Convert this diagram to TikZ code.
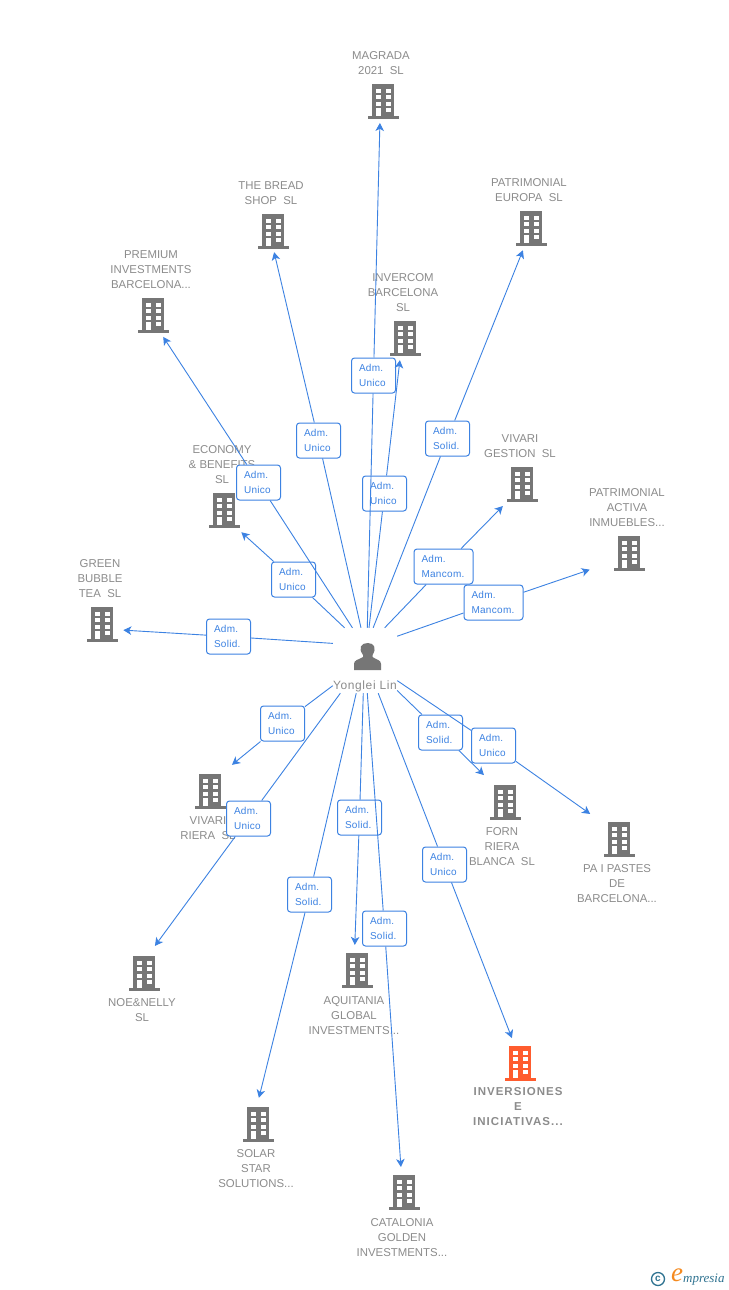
\documentclass[tikz,border=0pt]{standalone}
\usepackage{fontspec}
\setmainfont{Liberation Sans}
\newfontfamily\wideface[LetterSpace=9]{Liberation Sans}
\newfontfamily\nameface[LetterSpace=5]{Liberation Sans}
\newfontfamily\badgeface[LetterSpace=3]{Liberation Sans}
\newfontfamily\logoface{Liberation Serif}
\usetikzlibrary{arrows.meta}
\definecolor{linkblue}{HTML}{3C82E2}
\definecolor{iconGray}{HTML}{767676}
\definecolor{textGray}{HTML}{8C8C8C}
\definecolor{hotOrange}{HTML}{FF5C2E}
\definecolor{logoTeal}{HTML}{2F7391}
\definecolor{logoOrange}{HTML}{F58A1F}
\tikzset{
   company/.style={circle, minimum size=50pt, inner sep=0pt},
   companytext/.style={align=center, text=textGray, inner sep=0pt, yshift=-1pt, font=\fontsize{11.4}{15}\selectfont},
   hottext/.style={align=center, text=textGray, inner sep=0pt, yshift=-1pt, font=\fontsize{11.5}{15}\selectfont\bfseries\wideface},
   badge/.style={draw=linkblue, fill=white, rounded corners=3pt, line width=1pt, text=linkblue, align=left,
                 text width=29pt, minimum width=44pt, minimum height=35pt, inner xsep=7.5pt, inner ysep=0pt,
                 xshift=0.5pt, yshift=-0.5pt, font=\fontsize{10}{15}\selectfont\badgeface},
   widebadge/.style={badge, text width=44pt, minimum width=59pt},
   link/.style={draw=linkblue, line width=0.9pt},
   tiplink/.style={link, -{Stealth[length=8pt,width=8.5pt,inset=2.2pt]}},
   pics/building/.style={code={
      \fill[#1] (-11,-17) rectangle (11,15);
      \fill[#1] (-15.5,14.5) rectangle (15.5,17.5);
      \foreach \wx in {-7.5,2.5} \foreach \wy in {-12.5,-6,0.5}
         \fill[white] (\wx,\wy) rectangle ++(5,4);
      \fill[white] (-7.5,7) rectangle (-2.5,15);
      \fill[white] (2.5,7) rectangle (7.5,11);
   }}
}
\newcommand{\company}[4][]{
   \node[company,#1] (#2) at (#3) {};
   \pic at (#2) {building=#4};
}
\begin{document}
\begin{tikzpicture}[x=1pt,y=-1pt]
\useasboundingbox (0,0) rectangle (728,1290);
\fill[white] (0,0) rectangle (728,1290);
% person
\node[rectangle, minimum width=64pt, minimum height=65pt, inner sep=0pt] (person) at (365,660.5) {};
\fill[iconGray] (354,670) -- (354,664) .. controls (354,660) and (358,660) .. (363,657) -- (363,655)
   .. controls (358,648) and (361,643) .. (367.7,643) .. controls (374,643) and (377,648) .. (372.5,655) -- (372.5,657)
   .. controls (377,660) and (381,660) .. (381,664) -- (381,670) -- cycle;
\node[companytext, font=\fontsize{12}{15}\selectfont\nameface] (personname) at (365,685) {Yonglei Lin};
% companies
\company[minimum size=44pt]{magrada}{383,101}{iconGray}
\company[minimum size=42pt]{bread}{273,231}{iconGray}
\company[minimum size=47pt]{europa}{531,228}{iconGray}
\company[minimum size=48pt]{premium}{153,315}{iconGray}
\company[minimum size=45pt]{invercom}{405,338}{iconGray}
\company[minimum size=56pt]{economy}{224,510}{iconGray}
\company[minimum size=58pt]{gestion}{522,484}{iconGray}
\company[minimum size=85pt]{activa}{629,553}{iconGray}
\company[minimum size=44pt]{green}{102,624}{iconGray}
\company[minimum size=68pt]{riera}{210,791}{iconGray}
\company[minimum size=68pt]{forn}{505,802}{iconGray}
\company[minimum size=76pt]{pastes}{619,839}{iconGray}
\company[minimum size=58pt]{noe}{144,973}{iconGray}
\company{aquitania}{357,970}{iconGray}
\company[minimum size=52pt]{inversiones}{520,1063}{hotOrange}
\company[minimum size=52pt]{solar}{258,1124}{iconGray}
\company{catalonia}{404,1192}{iconGray}
% names
\node[companytext] (magradaname) at (381,62.5) {MAGRADA\\2021\ \ SL};
\node[companytext] (breadname) at (271,192) {THE BREAD\\SHOP\ \ SL};
\node[companytext] (europaname) at (529,189) {PATRIMONIAL\\EUROPA\ \ SL};
\node[companytext] (premiumname) at (151,269) {PREMIUM\\INVESTMENTS\\BARCELONA...};
\node[companytext] (invercomname) at (403,292) {INVERCOM\\BARCELONA\\SL};
\node[companytext] (economyname) at (222,464) {ECONOMY\\\&\ BENEFITS\\SL};
\node[companytext] (gestionname) at (520,445) {VIVARI\\GESTION\ \ SL};
\node[companytext] (activaname) at (627,507) {PATRIMONIAL\\ACTIVA\\INMUEBLES...};
\node[companytext] (greenname) at (100,578) {GREEN\\BUBBLE\\TEA\ \ SL};
\node[companytext] (rieraname) at (208,827) {VIVARI\\RIERA\ \ SL};
\node[companytext] (fornname) at (502,846) {FORN\\RIERA\\BLANCA\ \ SL};
\node[companytext] (pastesname) at (617,883) {PA I PASTES\\DE\\BARCELONA...};
\node[companytext] (noename) at (142,1009) {NOE\&NELLY\\SL};
\node[companytext] (aquitanianame) at (354,1015) {AQUITANIA\\GLOBAL\\INVESTMENTS...};
\node[hottext] (inversionesname) at (518,1106) {INVERSIONES\\E\\INICIATIVAS...};
\node[companytext] (solarname) at (256,1168) {SOLAR\\STAR\\SOLUTIONS...};
\node[companytext] (catalonianame) at (402,1237) {CATALONIA\\GOLDEN\\INVESTMENTS...};
% badges
\node[badge] (bgreen) at (228,636) {Adm.\\Solid.};
\node[badge] (beconomy) at (293,579) {Adm.\\Unico};
\node[badge] (bpremium) at (258,482) {Adm.\\Unico};
\node[badge] (bbread) at (318,440) {Adm.\\Unico};
\node[badge] (bmagrada) at (373,375) {Adm.\\Unico};
\node[badge] (binvercom) at (384,493) {Adm.\\Unico};
\node[badge] (beuropa) at (447,438) {Adm.\\Solid.};
\node[widebadge] (bgestion) at (443,566) {Adm.\\Mancom.};
\node[widebadge] (bactiva) at (493,602) {Adm.\\Mancom.};
\node[badge] (bpastes) at (493,745) {Adm.\\Unico};
\node[badge] (bforn) at (440,732) {Adm.\\Solid.};
\node[badge] (briera) at (282,723) {Adm.\\Unico};
\node[badge] (bnoe) at (248,818) {Adm.\\Unico};
\node[badge] (bsolar) at (309,894) {Adm.\\Solid.};
\node[badge] (baquitania) at (359,817) {Adm.\\Solid.};
\node[badge] (bcatalonia) at (384,928) {Adm.\\Solid.};
\node[badge] (binversiones) at (444,864) {Adm.\\Unico};
% connectors: badge/company/angle at person/angle at company
\foreach \via/\dest/\from/\to in {bgreen/green/152.7/-16,beconomy/economy/122.9/-52,bpremium/premium/111.8/-65,
      bbread/bread/97/-87,bmagrada/magrada/86.5/-98,binvercom/invercom/83/-103,beuropa/europa/76/-110,
      bgestion/gestion/59.7/-131,bactiva/activa/37.4/203.5,bpastes/pastes/-32.6/139,bforn/forn/-43.6/128,
      briera/riera/-142.6/50,bnoe/noe/-127.6/68,bsolar/solar/-105.5/88,baquitania/aquitania/-93.5/95,
      bcatalonia/catalonia/-86.5/97,binversiones/inversiones/-68/108}{
   \draw[link] (person.\from) -- (\via);
   \draw[tiplink] (\via) -- (\dest.\to);
}
% logo
\node[circle, draw=logoTeal, line width=1.3pt, text=logoTeal, inner sep=0pt, minimum size=13pt,
      font=\fontsize{10}{10}\selectfont\bfseries] (copymark) at (658,1279) {c};
\node[text=logoOrange, inner sep=0pt, font=\fontsize{27}{27}\selectfont\logoface\itshape] (logoe) at (677,1275) {e};
\node[text=logoTeal, inner sep=0pt, anchor=west, font=\fontsize{13}{13}\selectfont\logoface\itshape] (logoword) at (683,1279.5) {mpresia};
\end{tikzpicture}
\end{document}
